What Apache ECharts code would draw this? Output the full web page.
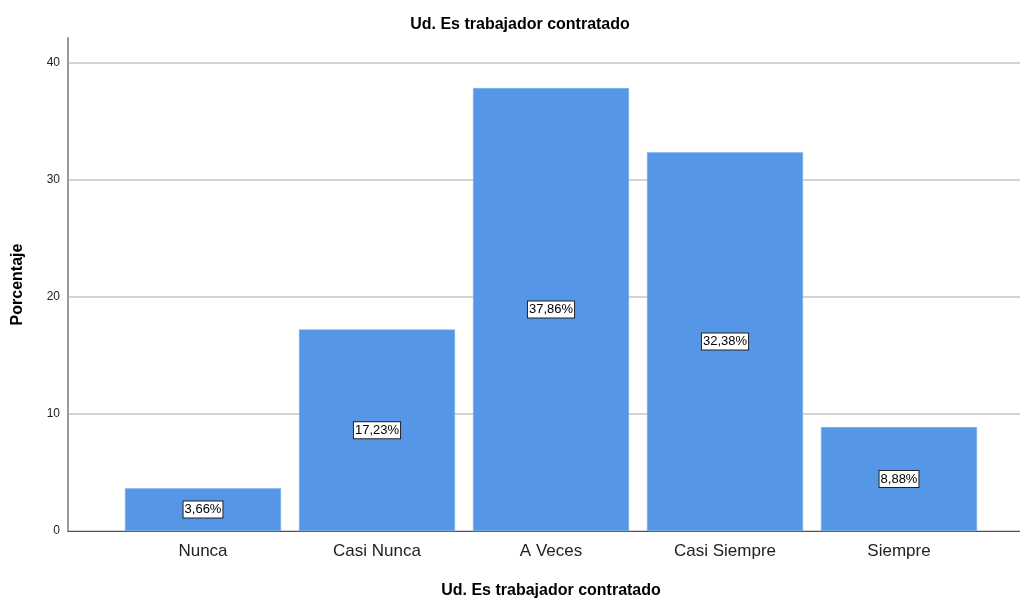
<!DOCTYPE html>
<html>
<head>
<meta charset="utf-8">
<script src="https://cdn.jsdelivr.net/npm/echarts@6/dist/echarts.min.js"></script>
<style>
  html, body { margin: 0; padding: 0; background: #fff; }
  #chart { width: 1020px; height: 600px; }
</style>
</head>
<body>
<div id="chart"></div>
<script>
// datos
const categories = ['Nunca', 'Casi Nunca', 'A Veces', 'Casi Siempre', 'Siempre'];
const percentages = [3.66, 17.23, 37.86, 32.38, 8.88];
const yTicks = [0, 10, 20, 30, 40];
const yMax = 42.14;

const font = 'Liberation Sans, Arial, sans-serif';
const chart = echarts.init(document.getElementById('chart'));

chart.setOption({
  animation: false,
  title: {
    text: 'Ud. Es trabajador contratado',
    left: 515, top: 12, textAlign: 'center',
    textStyle: { fontFamily: font, fontSize: 16, fontWeight: 'bold', color: '#000' }
  },
  grid: [
    // marco con eje Y y líneas de cuadrícula
    { left: 68, right: 0, top: 38, bottom: 69, outerBoundsMode: 'none' },
    // área de las barras
    { left: 116, right: 34, top: 38, bottom: 69, outerBoundsMode: 'none' }
  ],
  xAxis: [
    {
      gridIndex: 0, type: 'category', data: [''],
      axisLine: { lineStyle: { color: '#555', width: 1 } },
      axisTick: { show: false }, axisLabel: { show: false }
    },
    {
      gridIndex: 1, type: 'category', data: categories,
      axisLine: { show: false }, axisTick: { show: false },
      axisLabel: { fontFamily: font, fontSize: 17, color: '#222', margin: 12 },
      name: 'Ud. Es trabajador contratado', nameLocation: 'middle', nameGap: 52,
      nameTextStyle: { fontFamily: font, fontSize: 16, fontWeight: 'bold', color: '#000' }
    }
  ],
  yAxis: [
    {
      gridIndex: 0, type: 'value', min: 0, max: yMax, interval: 10,
      axisLine: { show: true, lineStyle: { color: '#999', width: 2 } },
      axisTick: { show: false },
      axisLabel: {
        fontFamily: font, fontSize: 12, color: '#222', margin: 8,
        showMaxLabel: false,
        formatter: v => yTicks.includes(v) ? String(v) : ''
      },
      splitLine: { showMaxLine: false, lineStyle: { color: '#d4d4d4', width: 2 } },
      name: 'Porcentaje', nameLocation: 'middle', nameGap: 42,
      nameTextStyle: { fontFamily: font, fontSize: 16, fontWeight: 'bold', color: '#000' }
    },
    {
      gridIndex: 1, type: 'value', min: 0, max: yMax, show: false
    }
  ],
  series: [{
    type: 'bar', xAxisIndex: 1, yAxisIndex: 1,
    data: percentages, barWidth: 156,
    itemStyle: { color: '#5596e6', borderColor: '#7eb0ee', borderWidth: 0.5 },
    label: {
      show: true, position: 'inside',
      formatter: p => p.value.toFixed(2).replace('.', ',') + '%',
      fontFamily: font, fontSize: 13, color: '#000',
      backgroundColor: '#fff', borderColor: '#222', borderWidth: 1,
      padding: [2, 1, 1, 1]
    }
  }]
});
</script>
</body>
</html>
